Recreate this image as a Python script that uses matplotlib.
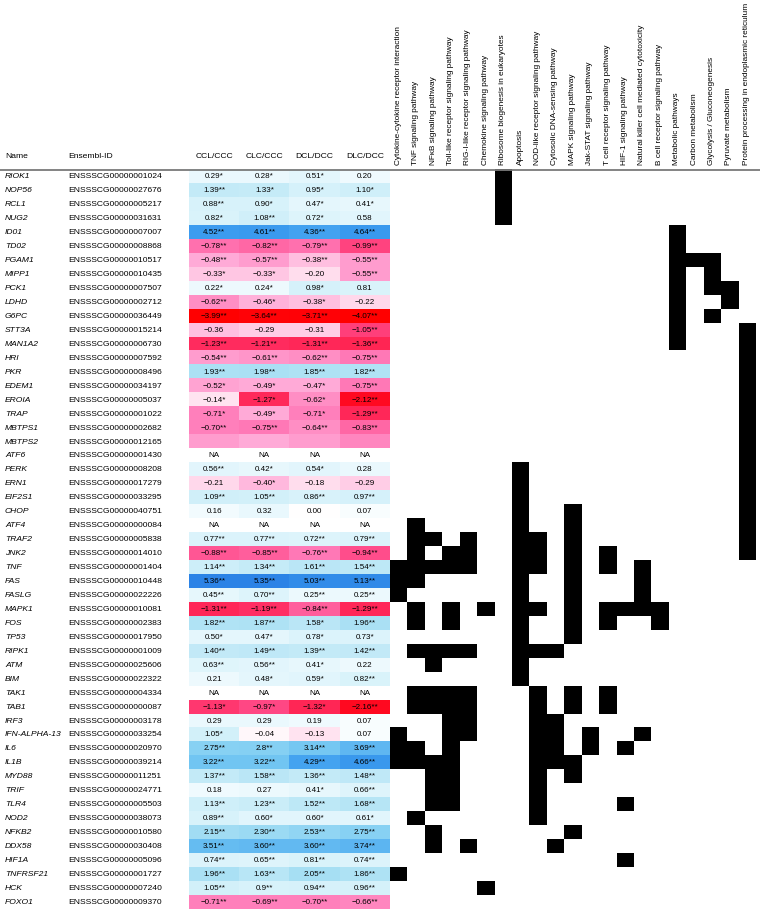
import numpy as np
import matplotlib.pyplot as plt
from matplotlib.colors import LinearSegmentedColormap, ListedColormap

plt.rcParams['font.family'] = ['Liberation Sans', 'DejaVu Sans']

genes = ['RIOK1', 'NOP56', 'RCL1', 'NUG2', 'ID01', 'TD02', 'PGAM1', 'MIPP1', 'PCK1', 'LDHD',
         'G6PC', 'STT3A', 'MAN1A2', 'HRI', 'PKR', 'EDEM1', 'EROIA', 'TRAP', 'MBTPS1', 'MBTPS2',
         'ATF6', 'PERK', 'ERN1', 'EIF2S1', 'CHOP', 'ATF4', 'TRAF2', 'JNK2', 'TNF', 'FAS',
         'FASLG', 'MAPK1', 'FOS', 'TP53', 'RIPK1', 'ATM', 'BIM', 'TAK1', 'TAB1', 'IRF3',
         'IFN-ALPHA-13', 'IL6', 'IL1B', 'MYD88', 'TRIF', 'TLR4', 'NOD2', 'NFKB2', 'DDX58', 'HIF1A',
         'TNFRSF21', 'HCK', 'FOXO1']

ensembl_ids = ['ENSSSCG00000001024', 'ENSSSCG00000027676', 'ENSSSCG00000005217', 'ENSSSCG00000031631',
               'ENSSSCG00000007007', 'ENSSSCG00000008868', 'ENSSSCG00000010517', 'ENSSSCG00000010435',
               'ENSSSCG00000007507', 'ENSSSCG00000002712', 'ENSSSCG00000036449', 'ENSSSCG00000015214',
               'ENSSSCG00000006730', 'ENSSSCG00000007592', 'ENSSSCG00000008496', 'ENSSSCG00000034197',
               'ENSSSCG00000005037', 'ENSSSCG00000001022', 'ENSSSCG00000002682', 'ENSSSCG00000012165',
               'ENSSSCG00000001430', 'ENSSSCG00000008208', 'ENSSSCG00000017279', 'ENSSSCG00000033295',
               'ENSSSCG00000040751', 'ENSSSCG00000000084', 'ENSSSCG00000005838', 'ENSSSCG00000014010',
               'ENSSSCG00000001404', 'ENSSSCG00000010448', 'ENSSSCG00000022226', 'ENSSSCG00000010081',
               'ENSSSCG00000002383', 'ENSSSCG00000017950', 'ENSSSCG00000001009', 'ENSSSCG00000025606',
               'ENSSSCG00000022322', 'ENSSSCG00000004334', 'ENSSSCG00000000087', 'ENSSSCG00000003178',
               'ENSSSCG00000033254', 'ENSSSCG00000020970', 'ENSSSCG00000039214', 'ENSSSCG00000011251',
               'ENSSSCG00000024771', 'ENSSSCG00000005503', 'ENSSSCG00000038073', 'ENSSSCG00000010580',
               'ENSSSCG00000030408', 'ENSSSCG00000005096', 'ENSSSCG00000001727', 'ENSSSCG00000007240',
               'ENSSSCG00000009370']

ratio_names = ['CCL/CCC', 'CLC/CCC', 'DCL/DCC', 'DLC/DCC']

ccl_ccc = ['0.29*', '1.39**', '0.88**', '0.82*', '4.52**', '−0.78**', '−0.48**', '−0.33*', '0.22*', '−0.62**',
           '−3.99**', '−0.36', '−1.23**', '−0.54**', '1.93**', '−0.52*', '−0.14*', '−0.71*', '−0.70**', '',
           'NA', '0.56**', '−0.21', '1.09**', '0.16', 'NA', '0.77**', '−0.88**', '1.14**', '5.36**',
           '0.45**', '−1.31**', '1.82**', '0.50*', '1.40**', '0.63**', '0.21', 'NA', '−1.13*', '0.29',
           '1.05*', '2.75**', '3.22**', '1.37**', '0.18', '1.13**', '0.89**', '2.15**', '3.51**', '0.74**',
           '1.96**', '1.05**', '−0.71**']
clc_ccc = ['0.28*', '1.33*', '0.90*', '1.08**', '4.61**', '−0.82**', '−0.57**', '−0.33*', '0.24*', '−0.46*',
           '−3.64**', '−0.29', '−1.21**', '−0.61**', '1.98**', '−0.49*', '−1.27*', '−0.49*', '−0.75**', '',
           'NA', '0.42*', '−0.40*', '1.05**', '0.32', 'NA', '0.77**', '−0.85**', '1.34**', '5.35**',
           '0.70**', '−1.19**', '1.87**', '0.47*', '1.49**', '0.56**', '0.48*', 'NA', '−0.97*', '0.29',
           '−0.04', '2.8**', '3.22**', '1.58**', '0.27', '1.23**', '0.60*', '2.30**', '3.60**', '0.65**',
           '1.63**', '0.9**', '−0.69**']
dcl_dcc = ['0.51*', '0.95*', '0.47*', '0.72*', '4.36**', '−0.79**', '−0.38**', '−0.20', '0.98*', '−0.38*',
           '−3.71**', '−0.31', '−1.31**', '−0.62**', '1.85**', '−0.47*', '−0.62*', '−0.71*', '−0.64**', '',
           'NA', '0.54*', '−0.18', '0.86**', '0.00', 'NA', '0.72**', '−0.76**', '1.61**', '5.03**',
           '0.25**', '−0.84**', '1.58*', '0.78*', '1.39**', '0.41*', '0.59*', 'NA', '−1.32*', '0.19',
           '−0.13', '3.14**', '4.29**', '1.36**', '0.41*', '1.52**', '0.60*', '2.53**', '3.60**', '0.81**',
           '2.05**', '0.94**', '−0.70**']
dlc_dcc = ['0.20', '1.10*', '0.41*', '0.58', '4.64**', '−0.99**', '−0.55**', '−0.55**', '0.81', '−0.22',
           '−4.07**', '−1.05**', '−1.36**', '−0.75**', '1.82**', '−0.75**', '−2.12**', '−1.29**', '−0.83**', '',
           'NA', '0.28', '−0.29', '0.97**', '0.07', 'NA', '0.79**', '−0.94**', '1.54**', '5.13**',
           '0.25**', '−1.29**', '1.96**', '0.73*', '1.42**', '0.22', '0.82**', 'NA', '−2.16**', '0.07',
           '0.07', '3.69**', '4.66**', '1.48**', '0.66**', '1.68**', '0.61*', '2.75**', '3.74**', '0.74**',
           '1.86**', '0.96**', '−0.66**']

# MBTPS2 has coloured cells but no printed value
mbtps2_shade = [-0.55, -0.5, -0.55, -0.65]

pathways = ['Cytokine-cytokine receptor interaction', 'TNF signaling pathway', 'NFκB signaling pathway',
            'Toll-like receptor signaling pathway', 'RIG-I-like receptor signaling pathway',
            'Chemokine signaling pathway', 'Ribosome biogenesis in eukaryotes', 'Apoptosis',
            'NOD-like receptor signaling pathway', 'Cytosolic DNA-sensing pathway', 'MAPK signaling pathway',
            'Jak-STAT signaling pathway', 'T cell receptor signaling pathway', 'HIF-1 signaling pathway',
            'Natural killer cell mediated cytotoxicity', 'B cell receptor signaling pathway',
            'Metabolic pathways', 'Carbon metabolism', 'Glycolysis / Gluconeogenesis', 'Pyruvate metabolism',
            'Protein processing in endoplasmic reticulum']

cytokine = ['TNF', 'FAS', 'FASLG', 'IFN-ALPHA-13', 'IL6', 'IL1B', 'TNFRSF21']
tnf_sig = ['ATF4', 'TRAF2', 'JNK2', 'TNF', 'FAS', 'MAPK1', 'FOS', 'RIPK1', 'TAK1', 'TAB1', 'IL6', 'IL1B', 'NOD2']
nfkb = ['TRAF2', 'TNF', 'RIPK1', 'ATM', 'TAK1', 'TAB1', 'IL1B', 'MYD88', 'TRIF', 'TLR4', 'NFKB2', 'DDX58']
toll = ['JNK2', 'TNF', 'MAPK1', 'FOS', 'RIPK1', 'TAK1', 'TAB1', 'IRF3', 'IFN-ALPHA-13', 'IL6', 'IL1B',
        'MYD88', 'TRIF', 'TLR4']
rigi = ['TRAF2', 'JNK2', 'TNF', 'RIPK1', 'TAK1', 'TAB1', 'IRF3', 'IFN-ALPHA-13', 'DDX58']
chemokine = ['MAPK1', 'HCK']
ribosome = ['RIOK1', 'NOP56', 'RCL1', 'NUG2']
apoptosis = ['PERK', 'ERN1', 'EIF2S1', 'CHOP', 'ATF4', 'TRAF2', 'JNK2', 'TNF', 'FAS', 'FASLG', 'MAPK1',
             'FOS', 'TP53', 'RIPK1', 'ATM', 'BIM']
nod = ['TRAF2', 'JNK2', 'TNF', 'MAPK1', 'RIPK1', 'TAK1', 'TAB1', 'IRF3', 'IFN-ALPHA-13', 'IL6', 'IL1B',
       'MYD88', 'TRIF', 'TLR4', 'NOD2']
dna_sensing = ['RIPK1', 'IRF3', 'IFN-ALPHA-13', 'IL6', 'IL1B', 'DDX58']
mapk = ['CHOP', 'ATF4', 'TRAF2', 'JNK2', 'TNF', 'FAS', 'FASLG', 'MAPK1', 'FOS', 'TP53', 'TAK1', 'TAB1',
        'IL1B', 'MYD88', 'NFKB2']
jak_stat = ['IFN-ALPHA-13', 'IL6']
tcell = ['JNK2', 'TNF', 'MAPK1', 'FOS', 'TAK1', 'TAB1']
hif1 = ['MAPK1', 'IL6', 'TLR4', 'HIF1A']
nk = ['TNF', 'FAS', 'FASLG', 'MAPK1', 'IFN-ALPHA-13']
bcell = ['MAPK1', 'FOS']
metabolic = ['ID01', 'TD02', 'PGAM1', 'MIPP1', 'PCK1', 'LDHD', 'G6PC', 'STT3A', 'MAN1A2']
carbon = ['PGAM1']
glycolysis = ['PGAM1', 'MIPP1', 'PCK1', 'G6PC']
pyruvate = ['PCK1', 'LDHD']
er_processing = ['STT3A', 'MAN1A2', 'HRI', 'PKR', 'EDEM1', 'EROIA', 'TRAP', 'MBTPS1', 'MBTPS2', 'ATF6',
                 'PERK', 'ERN1', 'EIF2S1', 'CHOP', 'ATF4', 'TRAF2', 'JNK2']

members = [cytokine, tnf_sig, nfkb, toll, rigi, chemokine, ribosome, apoptosis, nod, dna_sensing, mapk,
           jak_stat, tcell, hif1, nk, bcell, metabolic, carbon, glycolysis, pyruvate, er_processing]


def to_num(s):
    if s in ('', 'NA'):
        return np.nan
    return float(s.rstrip('*').replace('−', '-'))


columns = [ccl_ccc, clc_ccc, dcl_dcc, dlc_dcc]
vals = np.array([[to_num(s) for s in col] for col in columns]).T
vals[genes.index('MBTPS2')] = mbtps2_shade

mat = np.array([[g in m for m in members] for g in genes], dtype=float)

# colour scale (red negative, white zero, blue positive)
vmin, vmax = -4.1, 5.4
stops = [(-4.1, '#ff0000'), (-2.1, '#ff0a22'), (-1.25, '#ff2a5c'), (-0.95, '#ff4a88'), (-0.75, '#ff78b6'),
         (-0.5, '#ffa8d6'), (-0.3, '#ffcde6'), (-0.1, '#ffebf4'), (0.0, '#ffffff'), (0.2, '#eefafe'),
         (1.0, '#d4f1fa'), (2.0, '#a9e0f4'), (3.0, '#7ccdf3'), (4.5, '#3d9ef0'), (5.4, '#2b82e6')]
cmap = LinearSegmentedColormap.from_list('fc', [((v - vmin) / (vmax - vmin), c) for v, c in stops])
cmap.set_bad('white')

# layout in pixels
W, H = 760, 914
top = 170
row_h = 13.95
n = len(genes)
bottom = top + n * row_h
heat_l, heat_r = 189, 390
mat_l, col_w = 389.6, 17.4
mat_r = mat_l + col_w * len(pathways)

fig = plt.figure(figsize=(W / 100, H / 100), dpi=100)
ax = fig.add_axes([0, 0, 1, 1])

ax.imshow(vals, cmap=cmap, vmin=vmin, vmax=vmax, aspect='auto', interpolation='nearest',
          extent=(heat_l, heat_r, bottom, top))
ax.imshow(mat, cmap=ListedColormap(['white', 'black']), vmin=0, vmax=1, aspect='auto',
          interpolation='nearest', extent=(mat_l, mat_r, bottom, top))

ax.set_xlim(0, W)
ax.set_ylim(H, 0)
ax.axis('off')

ax.axhline(top, color='#7a7a7a', lw=1.3)

cell_w = (heat_r - heat_l) / 4
ax.text(5, top - 13, 'Name', fontsize=6.1, va='center')
ax.text(68, top - 13, 'Ensembl-ID', fontsize=6.1, va='center')
for j, rn in enumerate(ratio_names):
    ax.text(heat_l + cell_w * (j + 0.5), top - 13, rn, fontsize=6.1, va='center', ha='center')

for i, (g, eid) in enumerate(zip(genes, ensembl_ids)):
    y = top + row_h * (i + 0.5)
    ax.text(5, y, g, fontsize=6.1, style='italic', va='center')
    ax.text(68, y, eid, fontsize=6.1, va='center')
    for j, col in enumerate(columns):
        ax.text(heat_l + cell_w * (j + 0.5), y, col[i], fontsize=5.8, va='center', ha='center')

for k, p in enumerate(pathways):
    ax.text(mat_l + col_w * (k + 0.5), top - 5, p, fontsize=5.95, rotation=90, ha='center', va='bottom')

fig.savefig('out.png', dpi=100)
